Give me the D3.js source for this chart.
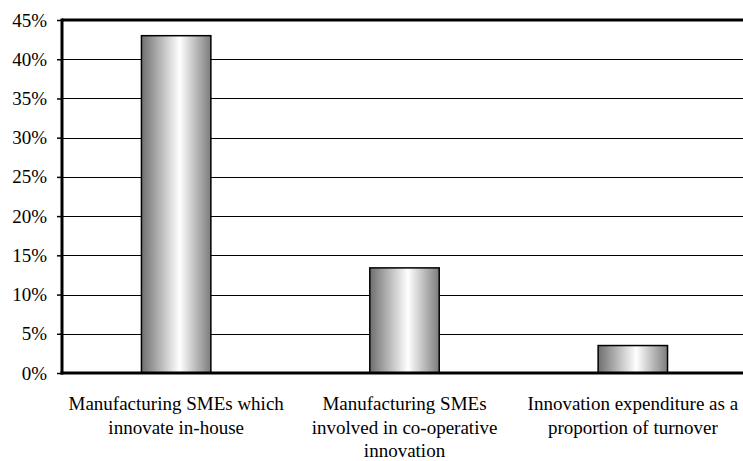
<!DOCTYPE html>
<html>
<head>
<meta charset="utf-8">
<script src="https://cdn.jsdelivr.net/npm/d3@7"></script>
<style>
  html, body { margin: 0; padding: 0; background: #fff; }
  svg { display: block; }
</style>
</head>
<body>
<svg id="chart" width="743" height="461"></svg>
<script>
const categories = [
  ["Manufacturing SMEs which", "innovate in-house"],
  ["Manufacturing SMEs", "involved in co-operative", "innovation"],
  ["Innovation expenditure as a", "proportion of turnover"]
];
const values = [0.43, 0.134, 0.035];
const yTicks = [0, 0.05, 0.10, 0.15, 0.20, 0.25, 0.30, 0.35, 0.40, 0.45];

(function () {
const svg = d3.select("#chart");
const pLeft = 62, pRight = 747, pTop = 20, pBottom = 373;
const fontSize = "19px";
const fontFam = "Liberation Serif";

const x = d3.scaleBand().domain(d3.range(categories.length)).range([pLeft, pRight])
  .paddingInner(0.696).paddingOuter(0.348);
const y = d3.scaleLinear().domain([0, 0.45]).range([pBottom, pTop]);

const defs = svg.append("defs");
const grad = defs.append("linearGradient").attr("id", "barGrad")
  .attr("x1", "0%").attr("x2", "100%").attr("y1", "0%").attr("y2", "0%");
grad.append("stop").attr("offset", "0%").attr("stop-color", "#6f6f6f");
grad.append("stop").attr("offset", "55%").attr("stop-color", "#ffffff");
grad.append("stop").attr("offset", "100%").attr("stop-color", "#7c7c7c");

// gridlines
svg.append("g").selectAll("line").data(yTicks.filter(t => t > 0 && t < 0.45)).join("line")
  .attr("x1", pLeft).attr("x2", 743)
  .attr("y1", d => Math.round(y(d)) + 0.5).attr("y2", d => Math.round(y(d)) + 0.5)
  .attr("stroke", "#000").attr("stroke-width", 1);

// top border
svg.append("line").attr("x1", pLeft).attr("x2", 743).attr("y1", y(0.45)).attr("y2", y(0.45))
  .attr("stroke", "#000").attr("stroke-width", 3);

// bars
svg.append("g").selectAll("rect").data(values).join("rect")
  .attr("x", (d, i) => x(i))
  .attr("width", x.bandwidth())
  .attr("y", d => y(d))
  .attr("height", d => y(0) - y(d))
  .attr("fill", "url(#barGrad)")
  .attr("stroke", "#000").attr("stroke-width", 1.5);

// y axis
const yAxis = d3.axisLeft(y).tickValues(yTicks).tickFormat(d3.format(".0%")).tickSize(5).tickPadding(10);
const ga = svg.append("g").attr("transform", `translate(${pLeft},0)`).call(yAxis);
ga.select(".domain").remove();
ga.selectAll(".tick line").attr("stroke", "#000").attr("stroke-width", 1.5);
ga.selectAll(".tick text")
  .style("font-family", fontFam).style("font-size", fontSize).attr("fill", "#000");

// left axis line
svg.append("line").attr("x1", pLeft).attr("x2", pLeft).attr("y1", pTop - 1.5).attr("y2", pBottom + 1.5)
  .attr("stroke", "#000").attr("stroke-width", 3);
// bottom axis line
svg.append("line").attr("x1", pLeft - 1.5).attr("x2", 743).attr("y1", pBottom).attr("y2", pBottom)
  .attr("stroke", "#000").attr("stroke-width", 3);

// category labels
const labels = svg.append("g").selectAll("text").data(categories).join("text")
  .attr("text-anchor", "middle")
  .style("font-family", fontFam).style("font-size", fontSize).attr("fill", "#000")
  .attr("transform", (d, i) => `translate(${x(i) + x.bandwidth() / 2},410)`);
labels.selectAll("tspan").data(d => d).join("tspan")
  .attr("x", 0).attr("y", (d, i) => i * 23.5).text(d => d);
})();
</script>
</body>
</html>
